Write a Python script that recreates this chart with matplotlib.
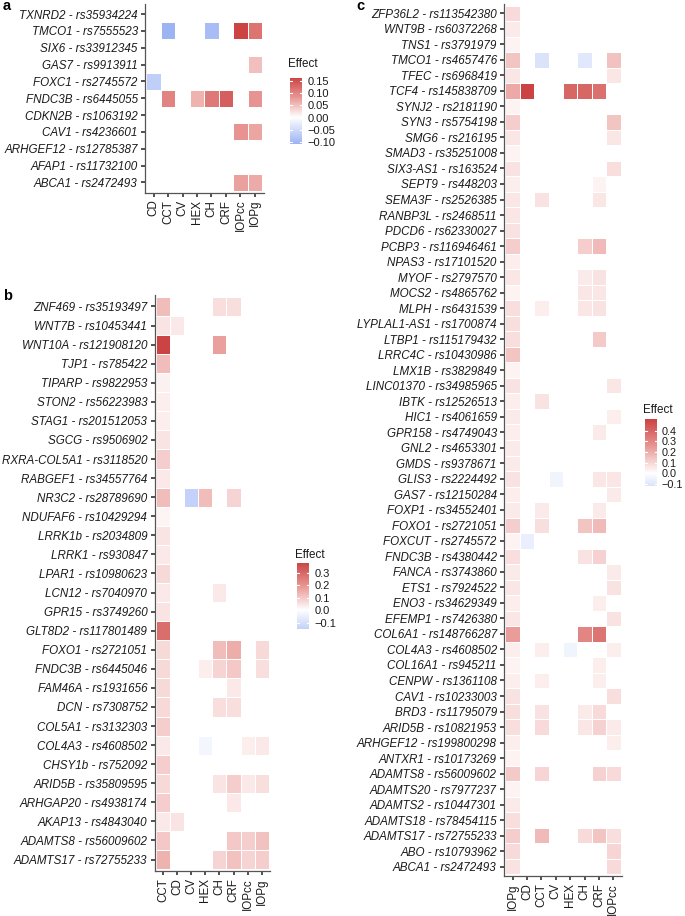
import numpy as np
import matplotlib
matplotlib.use("Agg")
import matplotlib.pyplot as plt
from matplotlib.colors import LinearSegmentedColormap, Normalize

plt.rcParams["font.family"] = ["Liberation Sans", "DejaVu Sans"]

# ---------------- data ----------------
cols_a = ["CD", "CCT", "CV", "HEX", "CH", "CRF", "IOPcc", "IOPg"]
genes_a = ["TXNRD2 - rs35934224", "TMCO1 - rs7555523", "SIX6 - rs33912345",
           "GAS7 - rs9913911", "FOXC1 - rs2745572", "FNDC3B - rs6445055",
           "CDKN2B - rs1063192", "CAV1 - rs4236601", "ARHGEF12 - rs12785387",
           "AFAP1 - rs11732100", "ABCA1 - rs2472493"]
N = None
vals_a = [
    [N, N, N, N, N, N, N, N],
    [N, -0.108, N, N, -0.095, N, 0.163, 0.115],
    [N, N, N, N, N, N, N, N],
    [N, N, N, N, N, N, N, 0.05],
    [-0.068, N, N, N, N, N, N, N],
    [N, 0.10, N, 0.06, 0.11, 0.135, N, 0.085],
    [N, N, N, N, N, N, N, N],
    [N, N, N, N, N, N, 0.085, 0.07],
    [N, N, N, N, N, N, N, N],
    [N, N, N, N, N, N, N, N],
    [N, N, N, N, N, N, 0.075, 0.065],
]

cols_b = ["CCT", "CD", "CV", "HEX", "CH", "CRF", "IOPcc", "IOPg"]
genes_b = ["ZNF469 - rs35193497", "WNT7B - rs10453441", "WNT10A - rs121908120",
           "TJP1 - rs785422", "TIPARP - rs9822953", "STON2 - rs56223983",
           "STAG1 - rs201512053", "SGCG - rs9506902", "RXRA-COL5A1 - rs3118520",
           "RABGEF1 - rs34557764", "NR3C2 - rs28789690", "NDUFAF6 - rs10429294",
           "LRRK1b - rs2034809", "LRRK1 - rs930847", "LPAR1 - rs10980623",
           "LCN12 - rs7040970", "GPR15 - rs3749260", "GLT8D2 - rs117801489",
           "FOXO1 - rs2721051", "FNDC3B - rs6445046", "FAM46A - rs1931656",
           "DCN - rs7308752", "COL5A1 - rs3132303", "COL4A3 - rs4608502",
           "CHSY1b - rs752092", "ARID5B - rs35809595", "ARHGAP20 - rs4938174",
           "AKAP13 - rs4843040", "ADAMTS8 - rs56009602", "ADAMTS17 - rs72755233"]
vals_b = [
    [0.12, N, N, N, 0.06, 0.06, N, N],
    [0.05, 0.04, N, N, N, N, N, N],
    [0.38, N, N, N, 0.17, N, N, N],
    [0.12, N, N, N, N, N, N, N],
    [0.025, N, N, N, N, N, N, N],
    [0.03, N, N, N, N, N, N, N],
    [0.03, N, N, N, N, N, N, N],
    [0.05, N, N, N, N, N, N, N],
    [0.09, N, N, N, N, N, N, N],
    [0.04, N, N, N, N, N, N, N],
    [0.12, N, -0.15, 0.12, N, 0.08, N, N],
    [0.02, N, N, N, N, N, N, N],
    [0.05, N, N, N, N, N, N, N],
    [0.04, N, N, N, N, N, N, N],
    [0.07, N, N, N, N, N, N, N],
    [0.04, N, N, N, 0.04, N, N, N],
    [0.05, N, N, N, N, N, N, N],
    [0.28, N, N, N, N, N, N, N],
    [0.07, N, N, N, 0.12, 0.15, N, 0.07],
    [0.07, N, N, 0.03, 0.08, 0.10, N, 0.06],
    [0.07, N, N, N, N, 0.04, N, N],
    [0.07, N, N, N, 0.06, 0.06, N, N],
    [0.09, N, N, N, N, N, N, N],
    [0.04, N, N, -0.03, N, N, 0.03, 0.04],
    [0.09, N, N, N, N, N, N, N],
    [0.07, N, N, N, 0.05, 0.09, 0.04, 0.06],
    [0.09, N, N, N, N, 0.04, N, N],
    [0.04, 0.05, N, N, N, N, N, N],
    [0.10, N, N, N, N, 0.10, 0.09, 0.11],
    [0.14, N, N, N, 0.08, 0.11, 0.08, 0.09],
]

cols_c = ["IOPg", "CD", "CCT", "CV", "HEX", "CH", "CRF", "IOPcc"]
genes_c = ["ZFP36L2 - rs113542380", "WNT9B - rs60372268", "TNS1 - rs3791979",
           "TMCO1 - rs4657476", "TFEC - rs6968419", "TCF4 - rs145838709",
           "SYNJ2 - rs2181190", "SYN3 - rs5754198", "SMG6 - rs216195",
           "SMAD3 - rs35251008", "SIX3-AS1 - rs163524", "SEPT9 - rs448203",
           "SEMA3F - rs2526385", "RANBP3L - rs2468511", "PDCD6 - rs62330027",
           "PCBP3 - rs116946461", "NPAS3 - rs17101520", "MYOF - rs2797570",
           "MOCS2 - rs4865762", "MLPH - rs6431539", "LYPLAL1-AS1 - rs1700874",
           "LTBP1 - rs115179432", "LRRC4C - rs10430986", "LMX1B - rs3829849",
           "LINC01370 - rs34985965", "IBTK - rs12526513", "HIC1 - rs4061659",
           "GPR158 - rs4749043", "GNL2 - rs4653301", "GMDS - rs9378671",
           "GLIS3 - rs2224492", "GAS7 - rs12150284", "FOXP1 - rs34552401",
           "FOXO1 - rs2721051", "FOXCUT - rs2745572", "FNDC3B - rs4380442",
           "FANCA - rs3743860", "ETS1 - rs7924522", "ENO3 - rs34629349",
           "EFEMP1 - rs7426380", "COL6A1 - rs148766287", "COL4A3 - rs4608502",
           "COL16A1 - rs945211", "CENPW - rs1361108", "CAV1 - rs10233003",
           "BRD3 - rs11795079", "ARID5B - rs10821953", "ARHGEF12 - rs199800298",
           "ANTXR1 - rs10173269", "ADAMTS8 - rs56009602", "ADAMTS20 - rs7977237",
           "ADAMTS2 - rs10447301", "ADAMTS18 - rs78454115", "ADAMTS17 - rs72755233",
           "ABO - rs10793962", "ABCA1 - rs2472493"]
vals_c = [
    [0.09, N, N, N, N, N, N, N],
    [0.05, N, N, N, N, N, N, N],
    [0.03, N, N, N, N, N, N, N],
    [0.14, N, -0.12, N, N, -0.10, N, 0.15],
    [0.06, N, N, N, N, N, N, 0.06],
    [0.21, 0.51, N, N, 0.40, 0.40, 0.37, N],
    [0.03, N, N, N, N, N, N, N],
    [0.12, N, N, N, N, N, N, 0.14],
    [0.06, N, N, N, N, N, N, 0.06],
    [0.03, N, N, N, N, N, N, N],
    [0.07, N, N, N, N, N, N, 0.08],
    [0.04, N, N, N, N, N, 0.03, N],
    [0.06, N, 0.07, N, N, N, 0.06, N],
    [0.06, N, N, N, N, N, N, N],
    [0.07, N, N, N, N, N, N, N],
    [0.12, N, N, N, N, 0.12, 0.17, N],
    [0.04, N, N, N, N, N, N, N],
    [0.06, N, N, N, N, 0.05, 0.07, N],
    [0.03, N, N, N, N, 0.06, 0.06, N],
    [0.08, N, 0.04, N, N, 0.06, 0.07, N],
    [0.08, N, N, N, N, N, N, N],
    [0.08, N, N, N, N, N, 0.13, N],
    [0.14, N, N, N, N, N, N, N],
    [0.03, N, N, N, N, N, N, N],
    [0.07, N, N, N, N, N, N, 0.06],
    [0.04, N, 0.07, N, N, N, N, N],
    [0.05, N, N, N, N, N, N, 0.04],
    [0.04, N, N, N, N, N, 0.05, N],
    [0.05, N, N, N, N, N, N, N],
    [0.05, N, N, N, N, N, N, N],
    [0.07, N, N, -0.05, N, N, 0.06, 0.06],
    [0.04, N, N, N, N, N, N, 0.05],
    [0.05, N, 0.05, N, N, N, 0.05, N],
    [0.12, N, 0.08, N, N, 0.14, 0.17, N],
    [0.03, -0.07, N, N, N, N, N, N],
    [0.08, N, N, N, N, 0.07, 0.11, N],
    [0.05, N, N, N, N, N, N, 0.05],
    [0.06, N, N, N, N, N, N, 0.07],
    [0.04, N, N, N, N, N, 0.04, N],
    [0.06, N, N, N, N, N, N, 0.07],
    [0.24, N, N, N, N, 0.31, 0.36, N],
    [0.04, N, 0.04, N, -0.05, N, N, 0.04],
    [0.03, N, N, N, N, N, 0.04, N],
    [0.04, N, 0.04, N, N, N, 0.04, N],
    [0.07, N, N, N, N, N, N, 0.08],
    [0.08, N, 0.07, N, N, 0.05, 0.09, N],
    [0.08, N, 0.09, N, N, 0.06, 0.11, 0.05],
    [0.04, N, N, N, N, N, N, 0.04],
    [0.03, N, N, N, N, N, N, N],
    [0.13, N, 0.10, N, N, N, 0.11, 0.09],
    [0.03, N, N, N, N, N, N, N],
    [0.05, N, N, N, N, N, N, N],
    [0.08, N, N, N, N, N, N, N],
    [0.12, N, 0.17, N, N, 0.09, 0.14, 0.08],
    [0.09, N, N, N, N, N, N, 0.10],
    [0.07, N, N, N, N, N, N, 0.09],
]

ticks_a = [-0.10, -0.05, 0.00, 0.05, 0.10, 0.15]
ticklab_a = ["\u22120.10", "\u22120.05", "0.00", "0.05", "0.10", "0.15"]
ticks_b = [-0.1, 0.0, 0.1, 0.2, 0.3]
ticklab_b = ["\u22120.1", "0.0", "0.1", "0.2", "0.3"]
ticks_c = [-0.1, 0.0, 0.1, 0.2, 0.3, 0.4]
ticklab_c = ["\u22120.1", "0.0", "0.1", "0.2", "0.3", "0.4"]

# ---------------- style ----------------
W, H = 685, 916
fig = plt.figure(figsize=(W / 100, H / 100), dpi=100)
cmap = LinearSegmentedColormap.from_list(
    "eff", [(0.0, "#6A8CEE"), (0.5, "#FFFFFF"), (0.75, "#E89794"), (1.0, "#CB4343")])
FS = 8.4
TXT = "#1a1a1a"


def add_ax(l, t, r, b):
    return fig.add_axes([l / W, 1 - b / H, (r - l) / W, (b - t) / H])


def heat(box, genes, cols, vals):
    ax = add_ax(*box)
    arr = np.array([[np.nan if v is None else v for v in row] for row in vals], float)
    M = np.nanmax(np.abs(arr))
    norm = Normalize(-M, M)
    n, k = arr.shape
    ax.pcolormesh(np.arange(k + 1) - 0.5, np.arange(n + 1) - 0.5,
                  np.ma.masked_invalid(arr), cmap=cmap, norm=norm,
                  edgecolors="white", linewidth=0.6)
    ax.set_xlim(-0.6, k - 0.4)
    ax.set_ylim(n - 0.4, -0.6)
    ax.set_xticks(range(k))
    ax.set_xticklabels(cols, rotation=90, fontsize=FS, color=TXT)
    ax.set_yticks(range(n))
    ax.set_yticklabels(genes, fontsize=FS, color=TXT, fontstyle="italic")
    for s in ["top", "right"]:
        ax.spines[s].set_visible(False)
    for s in ["left", "bottom"]:
        ax.spines[s].set_color("#555555")
        ax.spines[s].set_linewidth(0.9)
    ax.tick_params(length=3, width=1.1, color="#222222", pad=2.2)
    return np.nanmin(arr), np.nanmax(arr), norm


def legend(box, title_xy, vmin, vmax, norm, ticks, labels, pad=4, fs=8):
    cax = add_ax(*box)
    grad = np.linspace(vmin, vmax, 256)[:, None]
    cax.imshow(grad, cmap=cmap, norm=norm, aspect="auto", origin="lower",
               extent=[0, 1, vmin, vmax])
    cax.set_xlim(0, 1)
    cax.set_ylim(vmin, vmax)
    for t in ticks:
        cax.plot([0, 0.2], [t, t], color="white", lw=0.8)
        cax.plot([0.8, 1], [t, t], color="white", lw=0.8)
    cax.set_xticks([])
    cax.yaxis.tick_right()
    cax.set_yticks(ticks)
    cax.set_yticklabels(labels, fontsize=fs, color=TXT)
    cax.tick_params(axis="y", length=0, pad=pad)
    for s in cax.spines.values():
        s.set_visible(False)
    fig.text(title_xy[0] / W, 1 - title_xy[1] / H, "Effect", fontsize=8.4,
             color=TXT, ha="left", va="center")


lo, hi, nm = heat((145, 3.9, 263.5, 192.5), genes_a, cols_a, vals_a)
legend((290, 77.7, 302, 144), (288, 64), lo, hi, nm, ticks_a, ticklab_a)

lo, hi, nm = heat((154.5, 295, 270.2, 871), genes_b, cols_b, vals_b)
legend((297, 562.7, 309, 629), (295, 555.5), lo, hi, nm, ticks_b, ticklab_b)

lo, hi, nm = heat((504, 4.0, 622, 876), genes_c, cols_c, vals_c)
legend((645, 419, 657, 486), (643, 410), lo, hi, nm, ticks_c, ticklab_c,
       pad=3, fs=7.8)

for lab, x, y in [("a", 3, 6), ("b", 3, 296), ("c", 356, 6)]:
    fig.text(x / W, 1 - y / H, lab, fontsize=10.5, fontweight="bold",
             ha="left", va="center")

fig.savefig("out.png", dpi=100)
